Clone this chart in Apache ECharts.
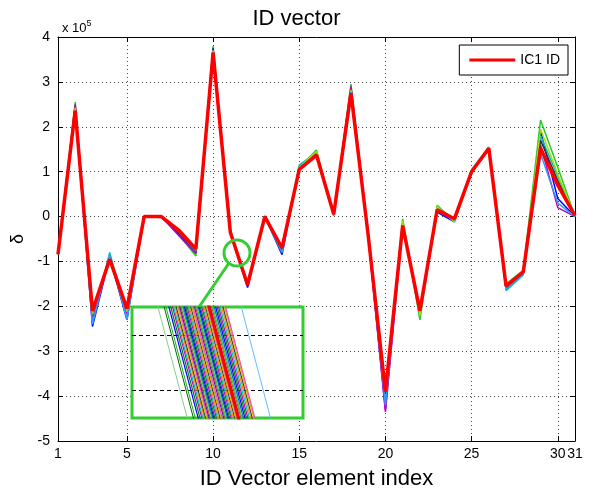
<!DOCTYPE html>
<html>
<head>
<meta charset="utf-8">
<script src="https://cdn.jsdelivr.net/npm/echarts@6/dist/echarts.min.js"></script>
<style>
  html, body { margin: 0; padding: 0; background: #fff; }
  #chart { width: 593px; height: 495px; }
</style>
</head>
<body>
<div id="chart"></div>
<script>
// element index 1..31
const idx = [];
for (let i = 1; i <= 31; i++) idx.push(i);
const xTicks = [1, 5, 10, 15, 20, 25, 30, 31];

// IC1 ID (red), values in units of 1e5
const ic1 = [-0.84, 2.36, -2.1, -0.95, -2.05, 0.0, 0.0, -0.3, -0.72, 3.65, -0.35, -1.52, 0.0, -0.7, 1.05, 1.37, 0.05, 2.75, -0.42, -3.9,
  -0.2, -2.1, 0.15, -0.05, 1.0, 1.52, -1.55, -1.23, 1.52, 0.7, 0.02];

// the other ID vectors drawn behind
const others = [
  { c: '#22cc22', v: [-0.84, 2.55, -2.3, -0.85, -2.25, 0.0, 0.0, -0.4, -0.88, 3.8, -0.35, -1.55, 0.02, -0.78, 1.1, 1.48, 0.02, 2.95, -0.4, -4.0,
    -0.05, -2.3, 0.25, -0.1, 1.02, 1.5, -1.5, -1.2, 2.15, 1.1, 0.0] },
  { c: '#0000ff', v: [-0.84, 2.45, -2.45, -0.9, -2.3, 0.0, -0.02, -0.38, -0.8, 3.75, -0.38, -1.58, 0.0, -0.85, 1.12, 1.4, 0.05, 2.85, -0.45, -4.3,
    -0.15, -2.15, 0.1, -0.12, 1.0, 1.5, -1.62, -1.28, 1.9, 0.4, 0.0] },
  { c: '#00bfbf', v: [-0.84, 2.4, -2.35, -0.8, -2.2, 0.0, 0.0, -0.35, -0.78, 3.7, -0.32, -1.5, 0.0, -0.8, 1.15, 1.42, 0.05, 2.8, -0.4, -4.1,
    -0.2, -2.2, 0.2, -0.05, 1.05, 1.55, -1.65, -1.3, 1.8, 0.9, 0.0] },
  { c: '#bf00bf', v: [-0.84, 2.5, -2.25, -0.95, -2.15, 0.0, 0.0, -0.42, -0.82, 3.72, -0.36, -1.55, 0.0, -0.75, 1.08, 1.38, 0.03, 2.9, -0.45, -4.35,
    -0.2, -2.1, 0.12, -0.08, 0.98, 1.5, -1.58, -1.25, 1.6, 0.2, 0.0] },
  { c: '#303030', v: [-0.84, 2.38, -2.2, -0.92, -2.1, 0.0, 0.0, -0.36, -0.76, 3.68, -0.35, -1.53, 0.0, -0.72, 1.05, 1.4, 0.05, 2.78, -0.42, -3.95,
    -0.2, -2.12, 0.15, -0.06, 1.0, 1.52, -1.56, -1.24, 1.7, 0.8, 0.0] },
  { c: '#aadd00', v: [-0.84, 2.42, -2.18, -0.88, -2.12, 0.0, 0.0, -0.33, -0.75, 3.7, -0.33, -1.5, 0.0, -0.7, 1.1, 1.45, 0.05, 2.82, -0.4, -3.85,
    -0.1, -2.2, 0.22, -0.12, 1.03, 1.53, -1.55, -1.22, 1.95, 0.95, 0.0] },
  { c: '#3399ff', v: [-0.84, 2.35, -2.4, -0.85, -2.3, 0.0, 0.0, -0.32, -0.74, 3.66, -0.35, -1.52, 0.0, -0.8, 1.08, 1.4, 0.05, 2.78, -0.42, -4.2,
    -0.2, -2.1, 0.15, -0.08, 1.0, 1.52, -1.62, -1.27, 1.4, 0.3, 0.0] }
];

// zoomed view (elements 11..12): shift of each vector from IC1 there
const zoomShift = [-0.11, -0.105, -0.1, -0.097, -0.093, -0.09, -0.086, -0.083, -0.08, -0.077, -0.073, -0.07, -0.067, -0.064, -0.06,
  -0.057, -0.054, -0.05, -0.047, -0.044, -0.04, -0.037, -0.034, -0.03, -0.027, -0.024, -0.02, -0.017, -0.014, -0.01, -0.007,
  -0.004, 0.003, 0.007, 0.01, 0.014, 0.018, 0.022, 0.026, 0.03, 0.034, 0.038, 0.042, 0.045];
const zoomColors = ['#0000ff', '#008000', '#bf00bf', '#00bfbf', '#ff8800', '#404040', '#bfbf00', '#ff44aa', '#6600cc', '#996633',
  '#33cc33', '#0066cc'];
const zoomOutliers = [
  { d: -0.14, c: '#88cc88' },
  { d: -0.123, c: '#006600' },
  { d: -0.118, c: '#22aa22' },
  { d: 0.088, c: '#66bbff' }
];
const zoomGrid = [-0.817, -0.782];

const font = 'Liberation Sans, Arial, sans-serif';
const chart = echarts.init(document.getElementById('chart'));

const series = [];
others.forEach((o, k) => {
  series.push({
    name: 'v' + k, type: 'line', symbol: 'none', silent: true,
    data: idx.map((x, i) => [x, o.v[i]]),
    lineStyle: { color: o.c, width: 1.5 }, z: 2
  });
});
series.push({
  name: 'IC1 ID', type: 'line', symbol: 'none',
  data: idx.map((x, i) => [x, ic1[i]]),
  lineStyle: { color: '#ff0000', width: 3.5 }, itemStyle: { color: '#ff0000' }, z: 3
});

// inset lines between element 11 and 12
function zoomLine(d, c, w, z) {
  return {
    type: 'line', symbol: 'none', silent: true, xAxisIndex: 2, yAxisIndex: 2,
    data: [[11, ic1[10] + d], [12, ic1[11] + d]],
    lineStyle: { color: c, width: w }, z: z
  };
}
const gridLines = zoomLine(0, 'rgba(0,0,0,0)', 0, 10);
gridLines.markLine = {
  silent: true, symbol: 'none', z: 10, label: { show: false },
  lineStyle: { type: [4, 3], color: '#000', width: 1 },
  data: zoomGrid.map(v => ({ yAxis: v }))
};
series.push(gridLines);
zoomOutliers.forEach(o => series.push(zoomLine(o.d, o.c, 1, 11)));
zoomShift.forEach((d, i) => series.push(zoomLine(d, zoomColors[i % zoomColors.length], 1.2, 11)));
series.push(zoomLine(0, '#ff0000', 3, 12));

const dotted = { type: [1, 3], color: '#444', width: 1 };

chart.setOption({
  animation: false,
  title: [
    { text: 'ID vector', left: 'center', top: 3, textStyle: { fontFamily: font, fontSize: 22, fontWeight: 'normal', color: '#000' } },
    { text: 'x 10{s|5}', left: 57, top: 14,
      textStyle: { fontFamily: font, fontSize: 13, fontWeight: 'normal', color: '#000',
        rich: { s: { fontFamily: font, fontSize: 9, verticalAlign: 'top', padding: [0, 0, 9, 0] } } } }
  ],
  legend: {
    data: ['IC1 ID'], right: 25, top: 45, orient: 'vertical',
    icon: 'rect', itemWidth: 46, itemHeight: 3, itemGap: 4,
    padding: [8, 8, 8, 10], borderColor: '#000', borderWidth: 1, backgroundColor: '#fff',
    textStyle: { fontFamily: font, fontSize: 14, color: '#000' }
  },
  grid: [
    { left: 58, right: 18, top: 37, bottom: 49 },
    { left: 132, top: 307, width: 171, height: 111, show: true, z: 8,
      backgroundColor: '#fff', borderColor: '#33cc33', borderWidth: 3 }
  ],
  xAxis: [
    {
      type: 'value', min: 1, max: 31, gridIndex: 0,
      name: 'ID Vector element index', nameLocation: 'middle', nameGap: 27,
      nameTextStyle: { fontFamily: font, fontSize: 22, color: '#000' },
      axisLine: { onZero: false, lineStyle: { color: '#000', width: 1 } },
      axisTick: { inside: true, length: 5, customValues: xTicks, lineStyle: { color: '#000' } },
      axisLabel: { customValues: xTicks, fontFamily: font, fontSize: 14, color: '#000', margin: 6 },
      splitLine: { show: true, lineStyle: dotted }
    },
    {
      type: 'value', min: 1, max: 31, gridIndex: 0, position: 'top',
      axisLine: { onZero: false, lineStyle: { color: '#000', width: 1 } },
      axisTick: { inside: true, length: 5, customValues: xTicks, lineStyle: { color: '#000' } },
      axisLabel: { show: false }, splitLine: { show: false }
    },
    {
      type: 'value', min: 11.17, max: 11.57, gridIndex: 1, show: false
    }
  ],
  yAxis: [
    {
      type: 'value', min: -5, max: 4, interval: 1, gridIndex: 0,
      name: 'δ', nameLocation: 'middle', nameGap: 24, nameRotate: 90,
      nameTextStyle: { fontFamily: font, fontSize: 18, color: '#000' },
      axisLine: { show: true, onZero: false, lineStyle: { color: '#000', width: 1 } },
      axisTick: { show: true, inside: true, length: 5, lineStyle: { color: '#000' } },
      axisLabel: { fontFamily: font, fontSize: 14, color: '#000', margin: 8 },
      splitLine: { show: true, lineStyle: dotted }
    },
    {
      type: 'value', min: -5, max: 4, interval: 1, gridIndex: 0, position: 'right',
      axisLine: { show: true, onZero: false, lineStyle: { color: '#000', width: 1 } },
      axisTick: { show: true, inside: true, length: 5, lineStyle: { color: '#000' } },
      axisLabel: { show: false }, splitLine: { show: false }
    },
    {
      type: 'value', min: -0.84, max: -0.76, gridIndex: 1, show: false
    }
  ],
  graphic: [
    { type: 'circle', shape: { cx: 237, cy: 253, r: 13 }, z: 20,
      style: { fill: null, stroke: '#33cc33', lineWidth: 3 } },
    { type: 'line', shape: { x1: 229, y1: 263, x2: 199, y2: 307 }, z: 20,
      style: { stroke: '#33cc33', lineWidth: 3 } }
  ],
  series: series
});
</script>
</body>
</html>
